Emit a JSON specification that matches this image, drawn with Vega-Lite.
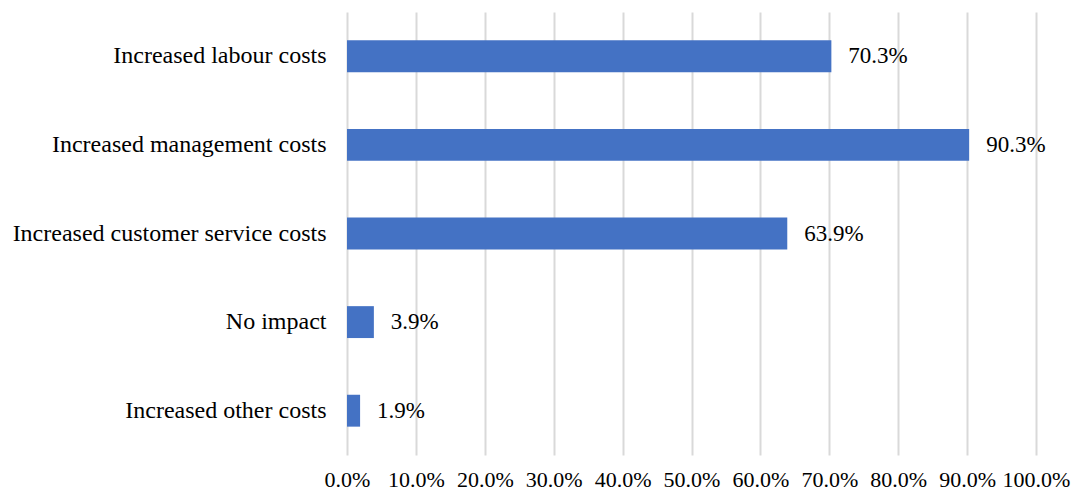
{
  "$schema": "https://vega.github.io/schema/vega-lite/v6.json",
  "width": 689,
  "height": 443,
  "autosize": {"type": "none"},
  "padding": {"left": 347, "top": 12, "right": 37, "bottom": 38},
  "background": "white",
  "config": {"view": {"stroke": null}, "font": "Liberation Serif"},
  "data": {"values": [
    {"category": "Increased labour costs", "value": 0.703},
    {"category": "Increased management costs", "value": 0.903},
    {"category": "Increased customer service costs", "value": 0.639},
    {"category": "No impact", "value": 0.039},
    {"category": "Increased other costs", "value": 0.019}
  ]},
  "encoding": {
    "y": {"field": "category", "type": "nominal", "sort": null,
      "scale": {"paddingInner": 0.64, "paddingOuter": 0.32},
      "axis": {"title": null, "domain": false, "ticks": false, "labelPadding": 21, "labelFontSize": 24, "labelColor": "#000000", "labelFont": "Liberation Serif", "labelLimit": 400}},
    "x": {"field": "value", "type": "quantitative",
      "scale": {"domain": [0, 1], "nice": false},
      "axis": {"title": null, "format": ".1%", "values": [0,0.1,0.2,0.3,0.4,0.5,0.6,0.7,0.8,0.9,1.0], "domain": false, "ticks": false, "grid": true, "gridColor": "#d9d9d9", "gridWidth": 2, "labelPadding": 14, "labelFontSize": 22, "labelColor": "#000000", "labelFont": "Liberation Serif", "labelFlush": false, "labelOverlap": false}}
  },
  "layer": [
    {"mark": {"type": "bar", "color": "#4472C4"}},
    {"mark": {"type": "text", "align": "left", "dx": 17, "fontSize": 23, "font": "Liberation Serif", "color": "#000000"},
     "encoding": {"text": {"field": "value", "type": "quantitative", "format": ".1%"}}}
  ]
}
